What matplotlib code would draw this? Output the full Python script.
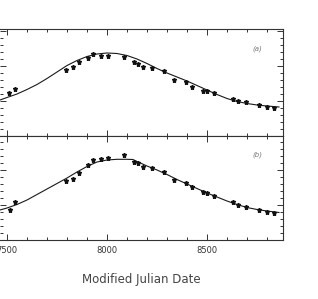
import matplotlib
matplotlib.use("Agg")
import matplotlib.pyplot as plt
from matplotlib.ticker import MultipleLocator

# ---- data ----
mjd_a = [7512, 7540, 7795, 7828, 7862, 7907, 7932, 7970, 8006, 8085, 8137, 8153, 8178,
         8225, 8285, 8335, 8395, 8427, 8482, 8498, 8535, 8628, 8657, 8695, 8762, 8802, 8835]
flux_a = [43.3, 47, 66, 68.7, 74.3, 77.7, 81.7, 80.3, 80.3, 79.3, 74.3, 72, 69.3,
          67.7, 65, 56, 53.7, 49.3, 45.3, 45.3, 42.7, 36.7, 35, 34.3, 31, 28.7, 27.7]
curve_mjd_a = [7465, 7500, 7550, 7600, 7650, 7700, 7750, 7800, 7850, 7900, 7950, 8000,
               8050, 8100, 8150, 8200, 8250, 8300, 8350, 8400, 8450, 8500, 8550, 8600,
               8650, 8700, 8750, 8800, 8860]
curve_flux_a = [36, 38.5, 42, 46.5, 51.5, 57.5, 64, 70.5, 75.5, 79.5, 82, 83,
                82.5, 80.5, 77, 72.5, 67.5, 63, 59, 55, 50.5, 46, 41.5, 37.5,
                34.5, 32.5, 31, 30, 29]

mjd_b = [7515, 7540, 7795, 7832, 7862, 7907, 7932, 7970, 8006, 8085, 8137, 8153, 8178,
         8225, 8285, 8335, 8395, 8427, 8482, 8498, 8535, 8628, 8657, 8695, 8762, 8802, 8835]
flux_b = [30, 38.3, 59.3, 61, 67.3, 75, 80, 81, 82.3, 85, 78.3, 76.7, 73.3,
          72.3, 68.3, 60, 57.3, 53.3, 48.3, 46.7, 44.3, 38.3, 35, 33.3, 30, 28.3, 26.7]
curve_mjd_b = [7465, 7500, 7550, 7600, 7650, 7700, 7750, 7800, 7850, 7900, 7950, 8000,
               8050, 8100, 8130, 8150, 8200, 8250, 8300, 8350, 8400, 8450, 8500, 8550,
               8600, 8650, 8700, 8750, 8800, 8860]
curve_flux_b = [30, 32, 35.5, 40, 45.5, 51, 56.5, 62, 68, 73.5, 78, 80,
                80.7, 80.7, 80.5, 78.5, 74, 70, 65.5, 60.5, 56, 51.5, 47, 43,
                39, 35.5, 32.5, 30.5, 29, 27.5]

panel_labels = ["(a)", "(b)"]
xticks = [7500, 8000, 8500]
xlabel = "Modified Julian Date"

W, H = 318, 299
fig = plt.figure(figsize=(W / 100, H / 100), dpi=100)
fig.patch.set_facecolor("white")

def frac(x0, y0, x1, y1):
    return [x0 / W, 1 - y1 / H, (x1 - x0) / W, (y1 - y0) / H]

ax_a = fig.add_axes(frac(0, 29, 283, 136))
ax_b = fig.add_axes(frac(0, 136, 283, 240))

grey = "#333333"
for ax, mx, fy, cx, cy, lab, ylim in [
        (ax_a, mjd_a, flux_a, curve_mjd_a, curve_flux_a, panel_labels[0], (0, 107)),
        (ax_b, mjd_b, flux_b, curve_mjd_b, curve_flux_b, panel_labels[1], (0, 104))]:
    ax.plot(cx, cy, color="#1a1a1a", lw=0.8)
    ax.errorbar(mx, fy, yerr=1.3, fmt="*", color="#111111", ms=3.6,
                elinewidth=0.6, capsize=0)
    ax.set_xlim(7465, 8880)
    ax.set_ylim(*ylim)
    ax.xaxis.set_major_locator(MultipleLocator(500))
    ax.xaxis.set_minor_locator(MultipleLocator(100))
    ax.yaxis.set_major_locator(MultipleLocator(35))
    ax.yaxis.set_minor_locator(MultipleLocator(7))
    ax.tick_params(which="both", direction="in", top=True, right=True,
                   left=True, bottom=True, color=grey, width=0.7)
    ax.tick_params(which="major", length=4)
    ax.tick_params(which="minor", length=2.2)
    ax.set_yticklabels([])
    for s in ax.spines.values():
        s.set_color(grey)
        s.set_linewidth(0.8)
    ax.spines["left"].set_visible(False)
    ax.text(0.908, 0.82, lab, transform=ax.transAxes, fontsize=5,
            style="italic", color="#777777", ha="center", va="center")

ax_a.set_xticklabels([])
ax_b.set_xticks(xticks)
ax_b.set_xticklabels([str(t) for t in xticks], fontsize=6, color=grey)
ax_b.tick_params(axis="x", pad=4)
fig.text(141 / W, 1 - 280 / H, xlabel, ha="center", va="center",
         fontsize=8.5, color="#444444")

fig.savefig("out.png", dpi=100, facecolor="white")
